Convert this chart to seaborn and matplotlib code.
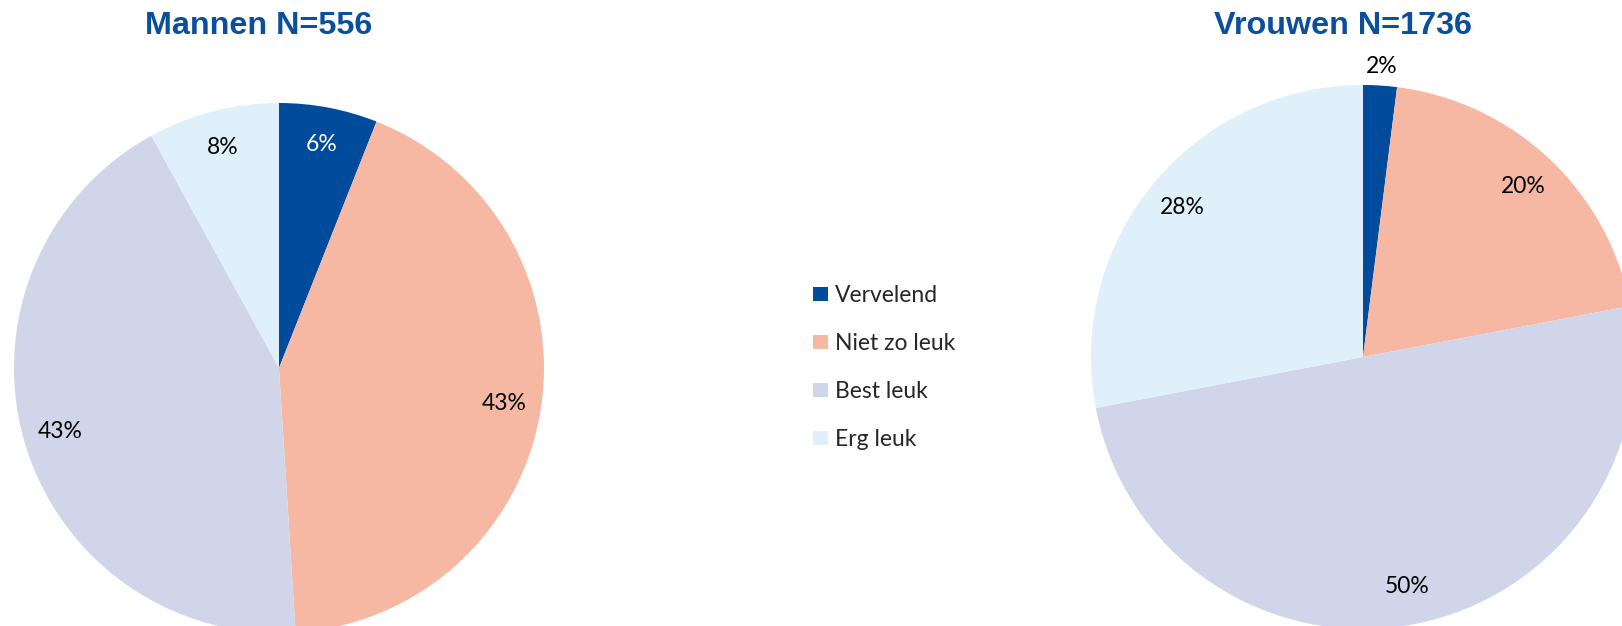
import numpy as np
import matplotlib
matplotlib.use("Agg")
import matplotlib.pyplot as plt
import seaborn as sns

categories = ["Vervelend", "Niet zo leuk", "Best leuk", "Erg leuk"]
mannen = [6, 43, 43, 8]
vrouwen = [2, 20, 50, 28]
titles = ["Mannen N=556", "Vrouwen N=1736"]
colors = ["#004B9C", "#F6B8A2", "#D1D5EA", "#E0F0FB"]

sns.set_theme(style="white")
plt.rcParams["font.family"] = ["Lato", "DejaVu Sans"]

W, H = 1622, 626
fig = plt.figure(figsize=(W / 100, H / 100), dpi=100)


def pie_axes(cx, cy, r):
    # axes in pixel units, centre (cx, cy) from top-left, radius r
    return fig.add_axes([(cx - r) / W, (H - cy - r) / H, 2 * r / W, 2 * r / H])


ax1 = pie_axes(279, 368, 265)
ax2 = pie_axes(1363, 357, 272)

for ax, vals in [(ax1, mannen), (ax2, vrouwen)]:
    wedges, texts, autos = ax.pie(vals, colors=colors, startangle=90, counterclock=False,
                                  autopct="%d%%", pctdistance=0.86, radius=1,
                                  wedgeprops=dict(linewidth=0),
                                  textprops=dict(fontsize=16.5, color="black"))
    for w, t, v in zip(wedges, autos, vals):
        if v <= 3:
            # small slice: label outside the pie
            ang = np.deg2rad((w.theta1 + w.theta2) / 2)
            t.set_position((1.07 * np.cos(ang), 1.07 * np.sin(ang)))
        elif w.get_facecolor()[0] < 0.2:
            t.set_color("white")
    ax.set_xlim(-1, 1)
    ax.set_ylim(-1, 1)
    ax.set_aspect("equal")
    ax.axis("off")

for x, title in zip([258.5, 1343], titles):
    fig.text(x / W, 1 - 26 / H, title, ha="center", va="center", fontsize=23.3,
             fontweight="bold", color="#0A4E9E", family=["Liberation Sans", "DejaVu Sans"])

fig.legend(wedges, categories, loc="upper left", bbox_to_anchor=(813 / W, 1 - 285 / H),
           frameon=False, fontsize=16.5, labelspacing=1.18, handlelength=0.66,
           handleheight=0.62, handletextpad=0.3, borderpad=0, borderaxespad=0)

fig.savefig("out.png", dpi=100)
